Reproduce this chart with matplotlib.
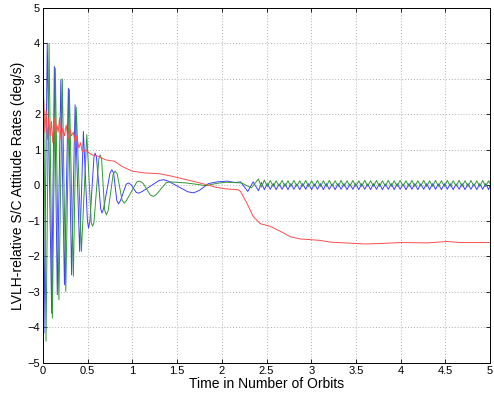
import numpy as np
import matplotlib
matplotlib.use('Agg')
import matplotlib.pyplot as plt

plt.rcParams['font.family'] = ['Liberation Sans', 'DejaVu Sans']

# Blue (x-axis rate): start, damped chirp, settle
blue_early_t = [0.000, 0.011, 0.048, 0.097, 0.127, 0.160, 0.200, 0.240, 0.284, 0.320,
                0.359, 0.410, 0.452, 0.497, 0.510, 0.525, 0.570, 0.583, 0.598, 0.645,
                0.660, 0.678, 0.750, 0.770, 0.790, 0.825, 0.845, 0.868, 0.930, 0.956,
                0.985, 1.04, 1.07, 1.11, 1.30, 1.35, 1.40, 1.62, 1.685, 1.75,
                1.85, 1.95, 2.06, 2.15, 2.21, 2.29, 2.35]
blue_early_v = [1.00, -4.16, 4.01, -3.60, 3.35, -3.08, 2.98, -2.80, 2.74, -2.52,
                2.27, -1.86, 1.52, -1.00, -1.20, -1.00, 0.80, 0.91, 0.80, -0.65,
                -0.78, -0.65, 0.35, 0.44, 0.35, -0.42, -0.52, -0.42, 0.03, 0.07,
                0.02, -0.19, -0.22, -0.17, 0.14, 0.16, 0.12, -0.18, -0.21, -0.14,
                0.05, 0.10, 0.12, 0.08, 0.10, -0.17, 0.10]

# Green (y-axis rate)
green_early_t = [0.000, 0.034, 0.068, 0.105, 0.138, 0.178, 0.216, 0.255, 0.295, 0.340,
                 0.372, 0.430, 0.490, 0.540, 0.555, 0.570, 0.625, 0.639, 0.655, 0.690,
                 0.710, 0.730, 0.785, 0.807, 0.830, 0.885, 0.910, 0.935, 1.05, 1.08,
                 1.12, 1.20, 1.235, 1.27, 1.38, 1.42, 1.60, 1.75, 1.82, 1.95,
                 2.05, 2.22, 2.33]
green_early_v = [4.60, -4.39, 4.00, -3.74, 3.30, -3.22, 3.00, -2.99, 2.70, -2.56,
                 2.20, -1.86, 1.43, -1.05, -1.15, -1.05, 0.75, 0.86, 0.75, -0.70,
                 -0.83, -0.70, 0.32, 0.40, 0.32, -0.42, -0.50, -0.42, 0.10, 0.12,
                 0.06, -0.27, -0.31, -0.25, 0.08, 0.10, 0.07, 0.02, -0.01, 0.06,
                 0.09, 0.07, -0.07]

# steady small oscillation after ~2.4 orbits (extrema times)
late_t = [2.410, 2.443, 2.476, 2.509, 2.542, 2.575, 2.608, 2.641, 2.674, 2.707,
          2.740, 2.773, 2.806, 2.839, 2.872, 2.905, 2.938, 2.971, 3.004, 3.037,
          3.070, 3.103, 3.136, 3.169, 3.202, 3.235, 3.268, 3.301, 3.334, 3.367,
          3.400, 3.433, 3.466, 3.499, 3.532, 3.565, 3.598, 3.631, 3.664, 3.697,
          3.730, 3.763, 3.796, 3.829, 3.862, 3.895, 3.928, 3.961, 3.994, 4.027,
          4.060, 4.093, 4.126, 4.159, 4.192, 4.225, 4.258, 4.291, 4.324, 4.357,
          4.390, 4.423, 4.456, 4.489, 4.522, 4.555, 4.588, 4.621, 4.654, 4.687,
          4.720, 4.753, 4.786, 4.819, 4.852, 4.885, 4.918, 4.951, 4.984]
green_late_v = [0.18, -0.05, 0.15, -0.03, 0.14, -0.03, 0.13, -0.02, 0.14, -0.03,
                0.13, -0.03, 0.14, -0.02, 0.13, -0.03, 0.14, -0.03, 0.13, -0.02,
                0.14, -0.03, 0.13, -0.03, 0.14, -0.02, 0.13, -0.03, 0.14, -0.03,
                0.13, -0.02, 0.14, -0.03, 0.13, -0.03, 0.14, -0.02, 0.13, -0.03,
                0.14, -0.03, 0.13, -0.02, 0.14, -0.03, 0.13, -0.03, 0.14, -0.02,
                0.13, -0.03, 0.14, -0.03, 0.13, -0.02, 0.14, -0.03, 0.13, -0.03,
                0.14, -0.02, 0.13, -0.03, 0.14, -0.03, 0.13, -0.02, 0.14, -0.03,
                0.13, -0.03, 0.14, -0.02, 0.13, -0.03, 0.14, -0.03, 0.13]
blue_late_v = [-0.15, 0.08, -0.12, 0.05, -0.11, 0.05, -0.12, 0.04, -0.11, 0.05,
               -0.12, 0.05, -0.11, 0.04, -0.12, 0.05, -0.11, 0.05, -0.12, 0.04,
               -0.11, 0.05, -0.12, 0.05, -0.11, 0.04, -0.12, 0.05, -0.11, 0.05,
               -0.12, 0.04, -0.11, 0.05, -0.12, 0.05, -0.11, 0.04, -0.12, 0.05,
               -0.11, 0.05, -0.12, 0.04, -0.11, 0.05, -0.12, 0.05, -0.11, 0.04,
               -0.12, 0.05, -0.11, 0.05, -0.12, 0.04, -0.11, 0.05, -0.12, 0.05,
               -0.11, 0.04, -0.12, 0.05, -0.11, 0.05, -0.12, 0.04, -0.11, 0.05,
               -0.12, 0.05, -0.11, 0.04, -0.12, 0.05, -0.11, 0.05, -0.12]

# Red (z-axis rate)
red_t = [0, 0.008, 0.02, 0.035, 0.05, 0.065, 0.08, 0.095, 0.11, 0.125,
         0.14, 0.155, 0.17, 0.185, 0.2, 0.22, 0.24, 0.26, 0.28, 0.30,
         0.32, 0.34, 0.36, 0.38, 0.40, 0.42, 0.44, 0.47, 0.55, 0.62,
         0.70, 0.75, 0.80, 0.88, 1.0, 1.14, 1.3, 1.42, 1.64, 1.83,
         1.93, 2.05, 2.18, 2.21, 2.28, 2.35, 2.43, 2.54, 2.66, 2.77,
         2.88, 3.0, 3.1, 3.22, 3.6, 3.75, 4.0, 4.3, 4.52, 4.66, 5.0]
red_v = [1.3, 2.4, 1.5, 2.1, 1.3, 1.9, 1.4, 1.8, 1.2, 1.9,
         1.4, 1.7, 1.5, 1.9, 1.3, 1.6, 1.4, 1.7, 1.3, 1.6,
         1.4, 1.5, 1.2, 1.4, 1.05, 1.2, 0.95, 1.0, 0.86, 0.82,
         0.72, 0.70, 0.68, 0.54, 0.40, 0.35, 0.33, 0.27, 0.14, 0.02,
         -0.05, -0.10, -0.12, -0.17, -0.50, -0.87, -1.08, -1.15, -1.30, -1.45,
         -1.51, -1.53, -1.55, -1.60, -1.65, -1.64, -1.61, -1.62, -1.58, -1.61, -1.61]

blue_t = blue_early_t + late_t + [5.0]
blue_v = blue_early_v + blue_late_v + [0.0]
green_t = green_early_t + late_t + [5.0]
green_v = green_early_v + green_late_v + [0.05]

fig = plt.figure(figsize=(4.94, 3.97), dpi=100)
ax = fig.add_axes([0.087, 0.086, 0.905, 0.894])

ax.plot(blue_t, blue_v, color=(0.25, 0.25, 1.0), lw=0.7)
ax.plot(green_t, green_v, color=(0.2, 0.6, 0.2), lw=0.7)
ax.plot(red_t, red_v, color=(1.0, 0.3, 0.3), lw=0.7)

ax.set_xlim(0, 5)
ax.set_ylim(-5, 5)
xt = np.arange(0, 5.01, 0.5)
ax.set_xticks(xt)
ax.set_xticklabels(['0', '0.5', '1', '1.5', '2', '2.5', '3', '3.5', '4', '4.5', '5'])
ax.set_yticks(np.arange(-5, 6, 1))
ax.tick_params(direction='in', length=3, width=0.6, labelsize=8,
               top=True, right=True, pad=2)
ax.grid(True, color='#b0b0b0', linestyle=(0, (1, 2)), linewidth=0.7)
for s in ax.spines.values():
    s.set_linewidth(0.7)

ax.set_xlabel('Time in Number of Orbits', fontsize=10, labelpad=1)
ax.set_ylabel('LVLH-relative S/C Attitude Rates (deg/s)', fontsize=10, labelpad=2)

fig.savefig('out.png', dpi=100)
